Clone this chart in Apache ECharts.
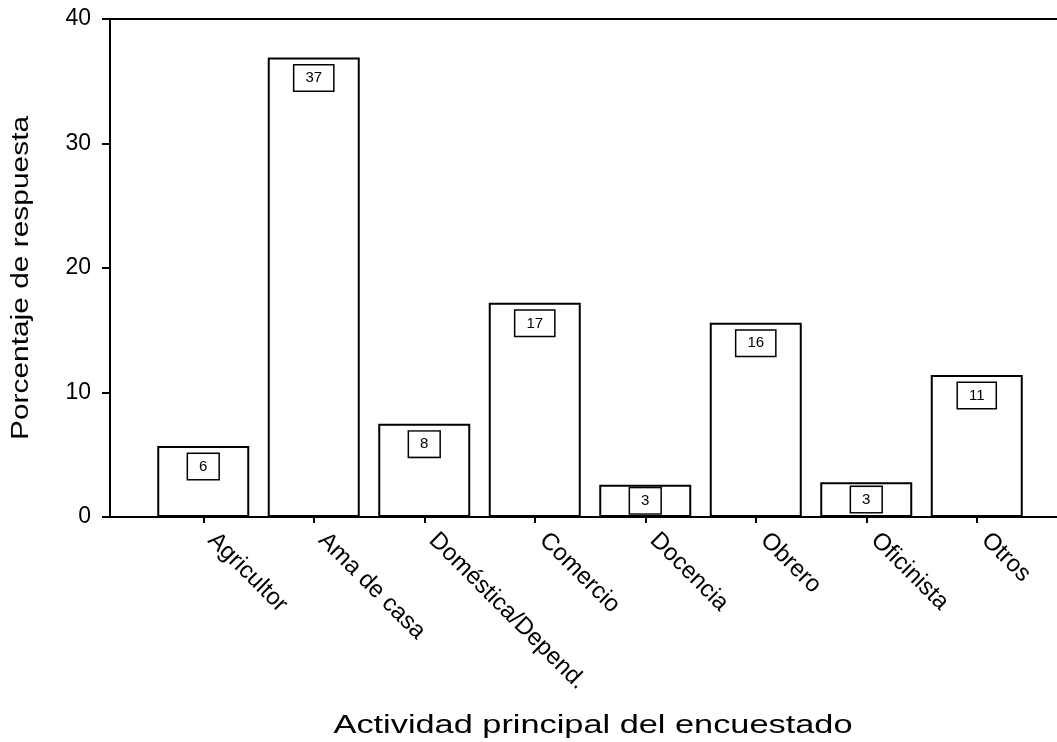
<!DOCTYPE html>
<html>
<head>
<meta charset="utf-8">
<script src="https://cdn.jsdelivr.net/npm/echarts@6/dist/echarts.min.js"></script>
<style>html,body{margin:0;padding:0;background:#fff}#c{width:1057px;height:742px}</style>
</head>
<body>
<div id="c"></div>
<script>
const categories = ['Agricultor', 'Ama de casa', 'Doméstica/Depend.', 'Comercio', 'Docencia', 'Obrero', 'Oficinista', 'Otros'];
const values = [5.7, 36.9, 7.5, 17.2, 2.6, 15.6, 2.8, 11.4];
const yTicks = [0, 10, 20, 30, 40];
const yTitle = 'Porcentaje de respuesta';
const xTitle = 'Actividad principal del encuestado';

const FONT = 'Liberation Sans, Arial, sans-serif';
const chart = echarts.init(document.getElementById('c'), null, {renderer: 'canvas'});

const barData = values.map(v => ({
  value: v,
  label: { position: v < 4 ? 'inside' : 'insideTop' }
}));

chart.setOption({
  animation: false,
  backgroundColor: '#fff',
  grid: [
    { left: 148, width: 884, top: 19, height: 498 },
    { left: 110, right: 0, top: 19, height: 498 }
  ],
  xAxis: [
    {
      type: 'category', gridIndex: 0, data: categories, boundaryGap: true,
      axisLine: { show: false },
      axisTick: { show: true, alignWithLabel: true, length: 6, lineStyle: { color: '#000', width: 2 } },
      axisLabel: { rotate: -45, fontSize: 24, fontFamily: FONT, color: '#000', margin: 28, interval: 0,
                   align: 'left', verticalAlign: 'bottom' },
      splitLine: { show: false }
    },
    {
      type: 'value', gridIndex: 1, position: 'bottom', min: 0, max: 1,
      axisLine: { show: true, onZero: false, lineStyle: { color: '#000', width: 2 } },
      axisTick: { show: false }, axisLabel: { show: false }, splitLine: { show: false }
    },
    {
      type: 'value', gridIndex: 1, position: 'top', min: 0, max: 1,
      axisLine: { show: true, onZero: false, lineStyle: { color: '#000', width: 2 } },
      axisTick: { show: false }, axisLabel: { show: false }, splitLine: { show: false }
    }
  ],
  yAxis: [
    { type: 'value', gridIndex: 0, min: 0, max: 40, show: false },
    {
      type: 'value', gridIndex: 1, min: yTicks[0], max: yTicks[yTicks.length - 1], interval: 10,
      axisLine: { show: true, lineStyle: { color: '#000', width: 2 } },
      axisTick: { show: true, length: 8, lineStyle: { color: '#000', width: 2 } },
      axisLabel: { fontSize: 23, fontFamily: FONT, color: '#000', margin: 19 },
      splitLine: { show: false }
    }
  ],
  graphic: [
    {
      type: 'text', x: 22, y: 278, rotation: Math.PI / 2, scaleX: 1.3,
      style: { text: yTitle, fontSize: 23, fontFamily: FONT, fill: '#000', align: 'center', verticalAlign: 'middle' }
    },
    {
      type: 'text', x: 593, y: 726, scaleX: 1.32,
      style: { text: xTitle, fontSize: 26, fontFamily: FONT, fill: '#000', align: 'center', verticalAlign: 'middle' }
    }
  ],
  series: [
    {
      type: 'bar', xAxisIndex: 0, yAxisIndex: 0, data: barData, barWidth: 92,
      itemStyle: { color: '#fff', borderColor: '#000', borderWidth: 2 },
      label: {
        show: true, distance: 8,
        formatter: p => String(Math.round(p.value)),
        fontSize: 15, fontFamily: FONT, color: '#000',
        backgroundColor: '#fff', borderColor: '#000', borderWidth: 1.5,
        padding: [5, 11, 5, 11]
      }
    }
  ]
});
</script>
</body>
</html>
